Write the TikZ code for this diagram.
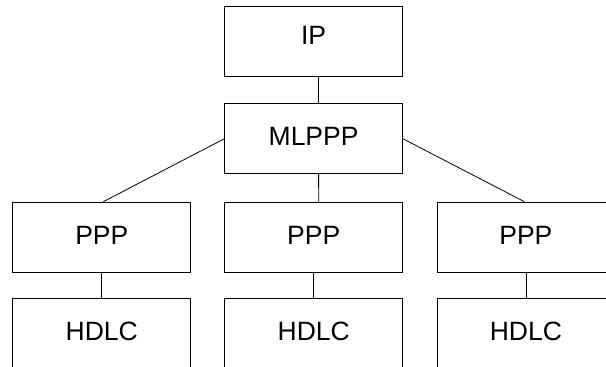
\documentclass[tikz,border=0pt]{standalone}
\usepackage{fontspec}
\setmainfont{Liberation Sans}
\usepackage{tikz}
\usetikzlibrary{positioning,calc}

\tikzset{
  layer/.style={draw, line width=0.8pt, minimum width=178pt, minimum height=70pt,
    inner sep=0pt, text depth=4pt, font=\fontsize{26.5}{30}\selectfont},
  link/.style={line width=0.8pt}
}

\begin{document}
\begin{tikzpicture}[x=1pt,y=-1pt]
        % Fix the page size
        \useasboundingbox (0,0) rectangle (606,367);
        \clip (0,0) rectangle (606,367);

        % Draw the top layers
        \node[layer,text depth=11pt] (ip) at (313.6,41) {IP};
        \node[layer] (mlppp) at (313.6,138.8) {MLPPP};

        % Draw the PPP layers
        \node[layer] (pppa) at (101.8,237.1) {PPP};
        \node[layer] (pppb) at (313.7,237.1) {PPP};
        \node[layer] (pppc) at (525.9,237.1) {PPP};

        % Draw the HDLC layers (cut off at the bottom)
        \node[layer] (hdlca) at (101.8,333.3) {HDLC};
        \node[layer] (hdlcb) at (313.7,333.3) {HDLC};
        \node[layer] (hdlcc) at (525.9,333.3) {HDLC};

        % Connect IP and MLPPP
        \draw[link] ([xshift=5pt]ip.south) -- ([xshift=5pt]mlppp.north);

        % Connect MLPPP to the PPP layers
        \draw[link] (mlppp.west) -- ([xshift=1.5pt]pppa.north);
        \draw[link] ([xshift=5pt]mlppp.south) -- ([xshift=5pt]pppb.north);
        \draw[link] (mlppp.east) -- ([xshift=-1.5pt]pppc.north);

        % Connect PPP and HDLC
        \draw[link] (pppa.south) -- (hdlca.north);
        \draw[link] (pppb.south) -- (hdlcb.north);
        \draw[link] (pppc.south) -- (hdlcc.north);

    \end{tikzpicture}
\end{document}
